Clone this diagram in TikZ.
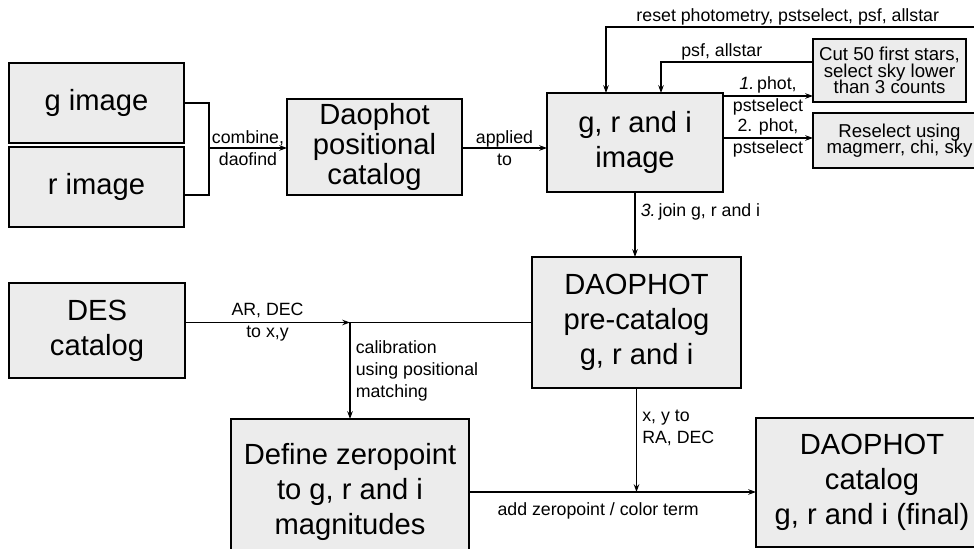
\documentclass[tikz,border=0pt]{standalone}
\usepackage{fontspec}
\setmainfont{Liberation Sans}
\usetikzlibrary{arrows.meta}
\newcommand{\bigtxt}{\fontsize{16.6}{19.8}\selectfont}
\newcommand{\smalltxt}{\fontsize{10.1}{12.4}\selectfont}
\newcommand{\tighttxt}{\fontsize{10.6}{9.4}\selectfont\lineskiplimit=-20pt\relax}

\begin{document}
\begin{tikzpicture}[>={Stealth[length=4.5pt,width=3.2pt,inset=1.5pt]}, line width=.6pt]
	\tikzstyle{box} = [rectangle, draw, line width=1.1pt, fill=gray!15, inner sep=0pt, outer sep=0pt, align=center, font=\bigtxt]
	\tikzstyle{small box} = [box, font=\tighttxt]
	\tikzstyle{lab} = [inner sep=1pt, font=\smalltxt, align=center]
	\useasboundingbox (0,0) rectangle (19.48,-10.98);
	\clip (0,0) rectangle (19.48,-10.98);
	% boxes
	\node[box, minimum width=3.5cm, minimum height=1.6cm]   (gimg)    at (1.93,-2.06)  {g image};
	\node[box, minimum width=3.5cm, minimum height=1.6cm]   (rimg)    at (1.93,-3.74)  {r image};
	\node[box, minimum width=3.5cm, minimum height=1.92cm, font=\fontsize{16.6}{17}\selectfont]
	                                                         (daophot) at (7.49,-2.94)  {Daophot\\positional\\catalog};
	\node[box, minimum width=3.52cm, minimum height=1.98cm] (grimg)   at (12.70,-2.85) {g, r and i\\image};
	\node[small box, minimum width=3.06cm, minimum height=1.26cm] (cut) at (17.79,-1.41) {Cut 50 first stars,\\select sky lower\\than 3 counts};
	\node[small box, minimum width=3.46cm, minimum height=1.10cm] (resel) at (17.99,-2.81) {Reselect using\\magmerr, chi, sky};
	\node[box, minimum width=3.52cm, minimum height=1.90cm] (des)     at (1.94,-6.61)  {DES\\catalog};
	\node[box, minimum width=4.18cm, minimum height=2.62cm] (precat)  at (12.73,-6.45) {DAOPHOT\\pre-catalog\\g, r and i};
	\node[box, minimum width=4.76cm, minimum height=2.92cm] (zero)    at (7.00,-9.84)  {Define zeropoint\\to g, r and i\\magnitudes};
	\node[box, minimum width=4.64cm, minimum height=2.58cm] (final)   at (17.44,-9.65) {DAOPHOT\\catalog\\g, r and i (final)};
	% top part
	\coordinate (merge) at (4.18,-2.96);
	\draw (gimg.east) -| (merge) |- ([yshift=-.16cm]rimg.east);
	\draw[->] (merge) -- node[lab] {combine,\\daofind} (merge -| daophot.west);
	\draw[->] (daophot.east |- merge) -- node[lab] {applied\\to} (merge -| grimg.west);
	\coordinate (p1) at ([yshift=-.06cm]grimg.north east);
	\coordinate (p2) at ([yshift=.09cm]grimg.east);
	\draw[->] (p1) -- node[lab] {\textit{1.}\,phot,\\pstselect} (p1 -| cut.west);
	\draw[->] (p2) -- node[lab] {2. phot,\\pstselect} (p2 -| resel.west);
	\coordinate (p3) at ([yshift=.17cm]cut.west);
	\coordinate (p4) at ([xshift=.52cm]grimg.north);
	\draw[->] (p3) -| node[lab, above, pos=.3] {psf, allstar} (p4);
	\coordinate (rtop) at (12.12,-0.54);
	\draw[->] (resel.east) -- ++(.2,0) |- node[lab, above, pos=.767] {reset photometry, pstselect, psf, allstar} (rtop) -- (rtop |- grimg.north);
	\draw[->] (grimg.south) -- node[lab, right=2pt, pos=.3] {\textit{3.}\,join g, r and i} (grimg.south |- precat.north);
	% bottom part
	\coordinate (junc) at (zero.north |- precat.west);
	\draw[->] (des.east |- junc) -- node[lab] {AR, DEC\\to x,y} (junc);
	\draw (precat.west) -- (junc);
	\draw[->] (junc) -- node[lab, right=2pt, align=left] {calibration\\using positional\\matching} (zero.north);
	\draw[->] (precat.south) -- node[lab, right=2pt, align=left, pos=.38] {x, y to\\RA, DEC} (precat.south |- zero.east);
	\draw[->] (zero.east) -- node[lab, below=5pt, pos=.45] {add zeropoint / color term} (zero.east -| final.west);
\end{tikzpicture}
\end{document}
